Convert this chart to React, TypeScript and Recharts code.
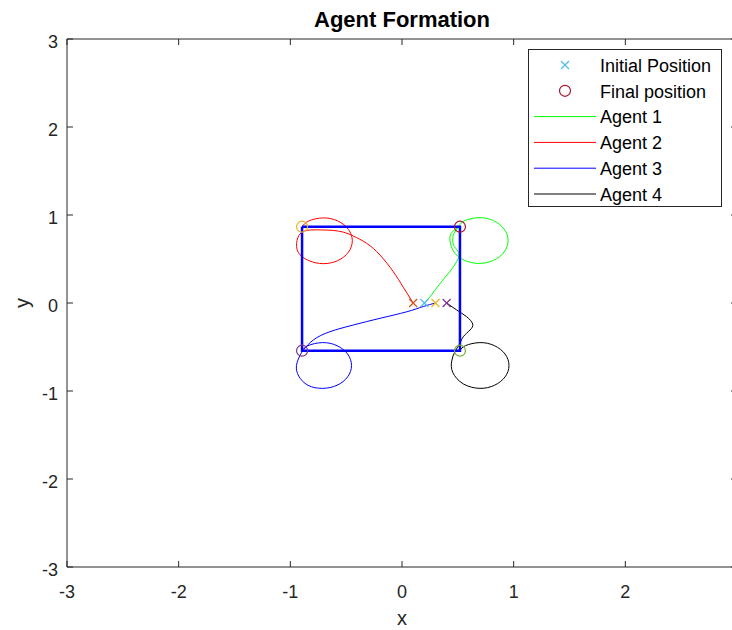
import React from 'react';
import { ComposedChart, Line, Scatter, XAxis, YAxis, Legend, Label } from 'recharts';

// ---------- data ----------
const TICKS = [-3, -2, -1, 0, 1, 2, 3];
const TICK_LABELS = ['-3', '-2', '-1', '0', '1', '2', '3'];

const agentNames = ['Agent 1', 'Agent 2', 'Agent 3', 'Agent 4'];
const legendLabels = ['Initial Position', 'Final position', 'Agent 1', 'Agent 2', 'Agent 3', 'Agent 4'];

const agent1Path: number[][] = [
  [0.2, 0], [0.25, 0.07], [0.34, 0.22], [0.43, 0.36], [0.49, 0.47], [0.51, 0.565],
  [0.47, 0.64], [0.455, 0.71], [0.465, 0.79], [0.51, 0.875], [0.56, 0.935],
  [0.69, 0.97], [0.82, 0.935], [0.915, 0.84], [0.95, 0.71], [0.915, 0.58],
  [0.82, 0.485], [0.69, 0.45], [0.56, 0.485], [0.465, 0.58], [0.43, 0.71],
  [0.445, 0.8], [0.519, 0.867],
];

const agent2Path: number[][] = [
  [0.1, 0], [0.012, 0.178], [-0.078, 0.356], [-0.197, 0.545], [-0.316, 0.678],
  [-0.436, 0.761], [-0.525, 0.805], [-0.62, 0.825], [-0.72, 0.83], [-0.82, 0.83],
  [-0.9, 0.8], [-0.94, 0.71], [-0.93, 0.577], [-0.835, 0.482], [-0.705, 0.447],
  [-0.575, 0.482], [-0.48, 0.577], [-0.445, 0.707], [-0.48, 0.837], [-0.575, 0.932],
  [-0.705, 0.967], [-0.835, 0.932], [-0.895, 0.867],
];

const agent3Path: number[][] = [
  [0.3, 0], [0.19, -0.04], [0.042, -0.1], [-0.197, -0.174], [-0.436, -0.25],
  [-0.645, -0.326], [-0.794, -0.42], [-0.88, -0.53], [-0.915, -0.6], [-0.945, -0.71],
  [-0.925, -0.83], [-0.842, -0.935], [-0.712, -0.97], [-0.582, -0.935], [-0.487, -0.84],
  [-0.452, -0.71], [-0.487, -0.58], [-0.582, -0.485], [-0.712, -0.45], [-0.842, -0.485],
  [-0.895, -0.542],
];

const agent4Path: number[][] = [
  [0.4, 0], [0.49, -0.08], [0.579, -0.156], [0.633, -0.239], [0.609, -0.307],
  [0.549, -0.383], [0.519, -0.458], [0.475, -0.55], [0.445, -0.66], [0.455, -0.79],
  [0.55, -0.92], [0.698, -0.97], [0.828, -0.935], [0.923, -0.84], [0.958, -0.71],
  [0.923, -0.58], [0.828, -0.485], [0.698, -0.45], [0.568, -0.485], [0.519, -0.542],
];

const formationPath: number[][] = [
  [-0.895, 0.867], [0.519, 0.867], [0.519, -0.542], [-0.895, -0.542], [-0.895, 0.867],
];

const initialPositions: number[][] = [[0.1, 0], [0.2, 0], [0.3, 0], [0.4, 0]];
const finalPositions: number[][] = [[-0.895, 0.867], [0.519, 0.867], [-0.895, -0.542], [0.519, -0.542]];

// ---------- styles ----------
const AX = '#262626';
const FONT = '"Liberation Sans", Arial, Helvetica, sans-serif';
const agentColors = ['#00FF00', '#FF0000', '#0000FF', '#000000'];
const initialColors = ['#D95319', '#4DBEEE', '#EDB120', '#7E2F8E'];
const finalColors = ['#EDB120', '#A2142F', '#7E2F8E', '#77AC30'];
const legendInitColor = '#4DBEEE';
const legendFinalColor = '#A2142F';

const toPts = (a: number[][]) => a.map(([x, y]) => ({ x, y }));
const agentPaths = [agent1Path, agent2Path, agent3Path, agent4Path];
const labelOf = (v: number) => TICK_LABELS[TICKS.indexOf(v)] ?? String(v);

const CrossMark = ({ cx, cy, color, s = 4 }: any) => (
  <g>
    <line x1={cx - s} y1={cy - s} x2={cx + s} y2={cy + s} stroke={color} strokeWidth={1.2} />
    <line x1={cx - s} y1={cy + s} x2={cx + s} y2={cy - s} stroke={color} strokeWidth={1.2} />
  </g>
);
const CircleMark = ({ cx, cy, color, r = 5.5 }: any) => (
  <circle cx={cx} cy={cy} r={r} fill="none" stroke={color} strokeWidth={1.2} />
);

const BottomTick = (p: any) => (
  <g>
    <line x1={p.x} x2={p.x} y1={p.y} y2={p.y - 6} stroke={AX} strokeWidth={1} />
    <text x={p.x} y={p.y + 31} textAnchor="middle" fontSize={18} fontFamily={FONT} fill={AX}>
      {labelOf(p.payload.value)}
    </text>
  </g>
);
const TopTick = (p: any) => (
  <line x1={p.x} x2={p.x} y1={p.y} y2={p.y + 6} stroke={AX} strokeWidth={1} />
);
const LeftTick = (p: any) => (
  <g>
    <line x1={p.x} x2={p.x + 6} y1={p.y} y2={p.y} stroke={AX} strokeWidth={1} />
    <text x={p.x - 9} y={p.y + 8.5} textAnchor="end" fontSize={18} fontFamily={FONT} fill={AX}>
      {labelOf(p.payload.value)}
    </text>
  </g>
);
const RightTick = (p: any) => (
  <line x1={p.x} x2={p.x - 6} y1={p.y} y2={p.y} stroke={AX} strokeWidth={1} />
);

const TitleLabel = (p: any) => {
  const vb = p.viewBox || {};
  return (
    <text x={vb.x + vb.width / 2} y={vb.y + vb.height - 12} textAnchor="middle" fontSize={22} fontWeight="bold" fontFamily={FONT} fill="#000">
      Agent Formation
    </text>
  );
};
const XAxisTitle = (p: any) => {
  const vb = p.viewBox || {};
  return (
    <text x={vb.x + vb.width / 2} y={vb.y + 58} textAnchor="middle" fontSize={20} fontFamily={FONT} fill={AX}>
      x
    </text>
  );
};
const YAxisTitle = (p: any) => {
  const vb = p.viewBox || {};
  const cy = vb.y + vb.height / 2;
  const x = vb.x + vb.width - 38;
  return (
    <text x={x} y={cy} transform={`rotate(-90 ${x} ${cy})`} textAnchor="middle" fontSize={20} fontFamily={FONT} fill={AX}>
      y
    </text>
  );
};

const LegendBox = () => (
  <svg width={194} height={158} style={{ display: 'block' }}>
    <rect x={0.5} y={0.5} width={193} height={157} fill="#fff" stroke={AX} strokeWidth={1} />
    {legendLabels.map((lab, i) => {
      const by = 22.7 + 25.8 * i;
      const my = by - 6.7;
      let mark: React.ReactNode = null;
      if (i === 0) mark = <CrossMark cx={37} cy={my} color={legendInitColor} s={4} />;
      else if (i === 1) mark = <CircleMark cx={37} cy={my} color={legendFinalColor} r={5.5} />;
      else mark = <line x1={6} x2={68} y1={my} y2={my} stroke={agentColors[i - 2]} strokeWidth={1} />;
      return (
        <g key={lab}>
          {mark}
          <text x={72} y={by} fontSize={18} fontFamily={FONT} fill="#000">{lab}</text>
        </g>
      );
    })}
  </svg>
);

export default function App() {
  return (
    <div style={{ position: 'fixed', left: 0, top: 0, width: 732, height: 630, overflow: 'hidden', background: '#fff' }}>
      <ComposedChart width={750} height={630} margin={{ top: 38, right: 12, bottom: 62, left: 66 }}>
        <XAxis xAxisId="b" orientation="bottom" type="number" dataKey="x" domain={[-3, 3]} ticks={TICKS} interval={0}
          allowDataOverflow height={1} tickSize={0} tickMargin={0} tickLine={false}
          axisLine={{ stroke: AX, strokeWidth: 1 }} tick={(p: any) => <BottomTick {...p} />}>
          <Label content={XAxisTitle} />
        </XAxis>
        <XAxis xAxisId="t" orientation="top" type="number" dataKey="x" domain={[-3, 3]} ticks={TICKS} interval={0}
          allowDataOverflow height={1} tickSize={0} tickMargin={0} tickLine={false}
          axisLine={{ stroke: AX, strokeWidth: 1 }} tick={(p: any) => <TopTick {...p} />}>
          <Label content={TitleLabel} />
        </XAxis>
        <YAxis yAxisId="l" orientation="left" type="number" dataKey="y" domain={[-3, 3]} ticks={TICKS} interval={0}
          allowDataOverflow width={1} tickSize={0} tickMargin={0} tickLine={false}
          axisLine={{ stroke: AX, strokeWidth: 1 }} tick={(p: any) => <LeftTick {...p} />}>
          <Label content={YAxisTitle} />
        </YAxis>
        <YAxis yAxisId="r" orientation="right" type="number" dataKey="y" domain={[-3, 3]} ticks={TICKS} interval={0}
          allowDataOverflow width={1} tickSize={0} tickMargin={0} tickLine={false}
          axisLine={{ stroke: AX, strokeWidth: 1 }} tick={(p: any) => <RightTick {...p} />} />

        {agentPaths.map((path, i) => (
          <Line key={agentNames[i]} name={agentNames[i]} xAxisId="b" yAxisId="l" data={toPts(path)} dataKey="y"
            type="natural" stroke={agentColors[i]} strokeWidth={1} dot={false} activeDot={false}
            isAnimationActive={false} />
        ))}
        <Line name="Formation" xAxisId="b" yAxisId="l" data={toPts(formationPath)} dataKey="y" type="linear"
          stroke="#0000FF" strokeWidth={2.5} dot={false} activeDot={false} isAnimationActive={false} legendType="none" />

        {initialPositions.map((pt, i) => (
          <Scatter key={'init' + i} name={'Initial ' + i} xAxisId="b" yAxisId="l" data={toPts([pt])}
            isAnimationActive={false} legendType="none"
            shape={(p: any) => <CrossMark cx={p.cx} cy={p.cy} color={initialColors[i]} s={4} />} />
        ))}
        {finalPositions.map((pt, i) => (
          <Scatter key={'final' + i} name={'Final ' + i} xAxisId="b" yAxisId="l" data={toPts([pt])}
            isAnimationActive={false} legendType="none"
            shape={(p: any) => <CircleMark cx={p.cx} cy={p.cy} color={finalColors[i]} r={5.5} />} />
        ))}

        <Legend layout="vertical" align="center" verticalAlign="middle" content={LegendBox}
          wrapperStyle={{ left: 528, top: 49, width: 194, height: 158 }} />
      </ComposedChart>
    </div>
  );
}
